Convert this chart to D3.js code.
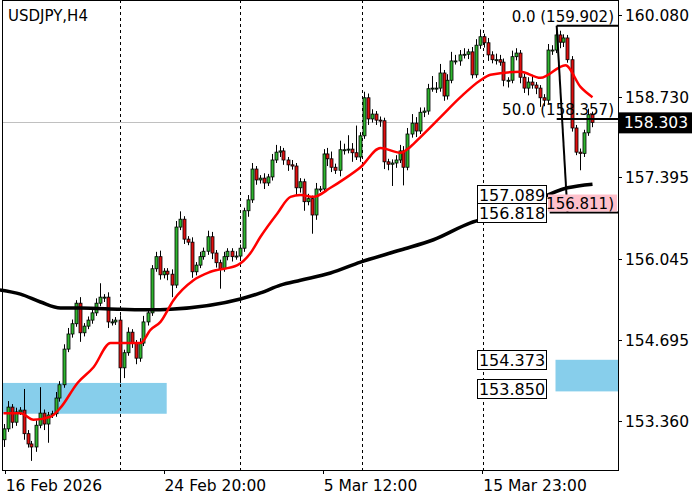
<!DOCTYPE html>
<html><head><meta charset="utf-8">
<script src="https://cdn.jsdelivr.net/npm/d3@7"></script>
<style>body{margin:0;background:#fff}svg{display:block}text{font-family:"DejaVu Sans",sans-serif}</style>
</head><body><svg id="c" width="700" height="500"></svg>
<script>
const symbol = "USDJPY,H4";
const firstOpen = 153.05;
const closes = [
153.23,153.59,153.34,153.51,153.54,153.15,152.98,152.93,153.29,153.49,
153.31,153.46,153.48,153.74,153.96,154.55,154.80,154.97,155.31,154.82,
154.93,155.03,155.15,155.31,155.41,155.41,155.00,155.00,155.03,154.24,
154.49,154.83,154.65,154.40,154.65,155.00,155.15,155.88,156.08,155.78,
155.84,155.79,155.61,156.57,156.70,156.37,156.32,155.83,155.94,156.08,
156.17,156.41,156.14,155.98,155.88,156.08,156.17,156.08,156.09,156.22,
156.84,157.02,157.53,157.35,157.38,157.30,157.40,157.68,157.81,157.83,
157.68,157.60,157.58,157.22,157.32,156.99,157.04,156.77,157.20,157.20,
157.78,157.70,157.56,157.51,157.85,157.85,157.86,157.80,157.73,158.08,
158.71,158.36,158.44,158.34,158.33,157.65,157.61,157.63,157.68,157.83,
157.56,158.11,158.29,158.16,158.47,158.49,158.86,158.87,158.87,159.12,
158.74,159.00,159.32,159.32,159.42,159.43,159.47,159.09,159.58,159.72,
159.62,159.42,159.34,159.34,159.30,159.00,159.00,159.39,159.45,159.05,
158.87,158.97,158.92,158.87,158.71,158.67,159.50,159.50,159.75,159.63,
159.70,159.34,158.21,157.81,157.79,158.13,158.43,158.303];
const wickUp = [
.08,.10,.05,.07,.05,.35,.06,.05,.08,.43,
.06,.05,.05,.10,.06,.08,.10,.07,.05,.10,
.05,.06,.05,.08,.23,.05,.08,.05,.05,.08,
.05,.08,.05,.05,.08,.10,.05,.06,.08,.10,
.05,.05,.08,.10,.13,.05,.05,.08,.05,.08,
.06,.10,.08,.05,.05,.08,.05,.05,.08,.06,
.05,.08,.10,.05,.05,.08,.05,.10,.12,.08,
.05,.05,.08,.05,.06,.05,.08,.05,.10,.05,
.08,.10,.12,.06,.15,.10,.23,.10,.45,.06,
.10,.07,.08,.05,.06,.05,.05,.06,.08,.10,
.08,.10,.15,.10,.08,.06,.08,.20,.10,.15,
.05,.10,.15,.10,.08,.10,.05,.08,.10,.12,
.05,.08,.06,.10,.08,.06,.05,.10,.08,.05,
.06,.08,.12,.05,.05,.06,.10,.08,.15,.07,
.06,.05,.06,.05,.06,.05,.10,.05];
const wickDn = [
.12,.05,.10,.06,.05,.10,.06,.23,.08,.05,
.10,.31,.05,.05,.06,.05,.05,.06,.05,.15,
.06,.05,.06,.05,.05,.08,.10,.06,.05,.25,
.17,.05,.08,.10,.06,.05,.06,.05,.05,.08,
.06,.10,.20,.05,.05,.08,.05,.10,.06,.05,
.05,.06,.10,.08,.33,.05,.06,.08,.05,.06,
.06,.10,.05,.08,.06,.10,.05,.06,.05,.08,
.08,.10,.06,.12,.08,.15,.06,.31,.08,.05,
.06,.12,.08,.06,.10,.08,.06,.15,.05,.08,
.05,.10,.06,.08,.10,.12,.10,.36,.08,.05,
.30,.05,.06,.10,.05,.08,.06,.05,.08,.06,
.08,.06,.05,.06,.08,.06,.08,.06,.05,.06,
.08,.10,.06,.08,.06,.10,.12,.05,.06,.10,
.08,.12,.06,.10,.15,.10,.06,.08,.05,.10,
.08,.05,.06,.05,.28,.06,.05,.08];
const maFast = [[0,153.49],[4.25,153.49],[7.5,153.38],[11.75,153.43],[14.25,153.58],[18.5,153.99],[22.5,154.25],[26.75,154.65],[29.25,154.65],[34.25,154.65],[36.75,154.87],[39.25,155.00],[42.5,155.36],[47.5,155.69],[51.75,155.83],[58.5,155.94],[61.75,156.14],[64.25,156.41],[68.5,156.80],[71.75,157.07],[74.25,157.10],[77.5,157.07],[81.75,157.22],[85.5,157.38],[89.25,157.56],[94.25,157.88],[99.25,157.80],[101.75,157.90],[104.25,158.06],[109.25,158.39],[114.25,158.72],[119.25,159.00],[121.75,159.09],[129.25,159.14],[134.25,159.04],[140.5,159.25],[144.25,158.89],[147.25,158.72]];
const maSlow = [[-0.9,155.53],[4.25,155.46],[9.25,155.33],[14.25,155.23],[19.25,155.23],[29.25,155.21],[36.75,155.20],[41.75,155.21],[59.25,155.38],[64.25,155.48],[69.25,155.61],[74.25,155.69],[81.75,155.81],[89.25,155.99],[99.25,156.19],[107.5,156.36],[116.75,156.64],[121.75,156.74],[129.25,156.90],[141,157.22],[147.25,157.28]];
const priceTicks = [160.080,158.730,157.395,156.045,154.695,153.360];
const timeLabels = [[0.3,"16 Feb 2026"],[40,"24 Feb 20:00"],[79.8,"5 Mar 12:00"],[119.7,"15 Mar 23:00"]];
const dividers = [29.2,59.2,89.7,119.9];
const fib = {hi:159.902, lo:156.811, mid:158.357, i0:138.3, i1:141};
const zoneLeft = [-0.3, 40.8, 153.99, 153.48];
const zoneRight = [138, 154, 154.373, 153.850];
const lastPrice = 158.303;
const boxA = [157.089,156.818];

const svg = d3.select("#c");
const L=2,R=618,T=0,B=470;
const x = d3.scaleLinear().domain([0,147]).range([3.5,591.5]);
const y = d3.scaleLinear().domain([153.360,160.080]).range([421,15]);

[zoneLeft,zoneRight].forEach(z=>{
  const x0=Math.max(L,x(z[0])), x1=Math.min(R,x(z[1]));
  svg.append("rect").attr("x",x0).attr("y",y(z[2])).attr("width",x1-x0).attr("height",y(z[3])-y(z[2])).attr("fill","#87ceeb");
});
dividers.forEach(d=>svg.append("line").attr("x1",Math.round(x(d))+.5).attr("x2",Math.round(x(d))+.5).attr("y1",T).attr("y2",B).attr("stroke","#000").attr("stroke-dasharray","3,3"));
svg.append("line").attr("x1",L).attr("x2",R).attr("y1",Math.round(y(lastPrice))+.5).attr("y2",Math.round(y(lastPrice))+.5).attr("stroke","#c0c0c0");

const bars = closes.map((c,i)=>{const o=i?closes[i-1]:firstOpen;return {i,o,c,h:Math.max(o,c)+wickUp[i],l:Math.min(o,c)-wickDn[i]};});
const g=svg.append("g");
bars.forEach(b=>{
  const cx=Math.round(x(b.i))+.5;
  g.append("line").attr("x1",cx).attr("x2",cx).attr("y1",y(b.h)).attr("y2",y(b.l)).attr("stroke","#000");
  const top=y(Math.max(b.o,b.c)), bot=y(Math.min(b.o,b.c));
  g.append("rect").attr("x",cx-1.5).attr("y",top).attr("width",3).attr("height",Math.max(1,bot-top))
   .attr("fill",b.c>=b.o?"#2fb52f":"#e01010").attr("stroke","#000").attr("stroke-width",0.8);
});
const ln=d3.line().x(d=>x(d[0])).y(d=>y(d[1])).curve(d3.curveMonotoneX);
svg.append("path").attr("d",ln(maSlow)).attr("fill","none").attr("stroke","#000").attr("stroke-width",3.5);
svg.append("path").attr("d",ln(maFast)).attr("fill","none").attr("stroke","#ff0000").attr("stroke-width",2.5);

const fx0=x(fib.i0);
svg.append("line").attr("x1",fx0).attr("y1",y(fib.hi)).attr("x2",x(fib.i1)).attr("y2",y(fib.lo)).attr("stroke","#000").attr("stroke-width",2);
[[fib.hi,fx0],[fib.mid,fx0],[fib.lo,x(fib.i0)-7]].forEach(f=>{
  svg.append("line").attr("x1",f[1]).attr("x2",R).attr("y1",y(f[0])).attr("y2",y(f[0])).attr("stroke","#000").attr("stroke-width",2);
});
svg.append("rect").attr("x",548).attr("y",y(fib.lo)-18).attr("width",69).attr("height",17).attr("fill","#ffc0cb");
[[fib.hi,"0.0 ("+fib.hi.toFixed(3)+")"],[fib.mid,"50.0 ("+fib.mid.toFixed(3)+")"],[fib.lo,"100.0 ("+fib.lo.toFixed(3)+")"]].forEach(f=>{
  svg.append("text").attr("x",614).attr("y",y(f[0])-4).attr("text-anchor","end").attr("font-size",15).attr("fill","#000").text(f[1]);
});
function vbox(v,yy){
  svg.append("rect").attr("x",477.5).attr("y",yy).attr("width",69).attr("height",19).attr("fill","#fff").attr("stroke","#000");
  svg.append("text").attr("x",512).attr("y",yy+15.5).attr("text-anchor","middle").attr("font-size",16).text(v.toFixed(3));
}
vbox(boxA[0],185.5); vbox(boxA[1],203.5);
vbox(zoneRight[2],350.5); vbox(zoneRight[3],379.5);

svg.append("rect").attr("x",L+.5).attr("y",T+.5).attr("width",R-L).attr("height",B-T).attr("fill","none").attr("stroke","#000");
priceTicks.forEach(p=>{
  svg.append("line").attr("x1",R).attr("x2",R+4).attr("y1",Math.round(y(p))+.5).attr("y2",Math.round(y(p))+.5).attr("stroke","#000");
  svg.append("text").attr("x",625).attr("y",y(p)+6).attr("font-size",15.5).text(p.toFixed(3));
});
svg.append("rect").attr("x",619).attr("y",y(lastPrice)-10).attr("width",73).attr("height",21).attr("fill","#000");
svg.append("text").attr("x",624).attr("y",y(lastPrice)+6).attr("font-size",15.5).attr("fill","#fff").text(lastPrice.toFixed(3));
timeLabels.forEach(t=>{
  const xx=x(t[0]);
  svg.append("line").attr("x1",Math.round(xx)+.5).attr("x2",Math.round(xx)+.5).attr("y1",B).attr("y2",B+4).attr("stroke","#000");
  svg.append("text").attr("x",xx+1).attr("y",491).attr("font-size",15.5).text(t[1]);
});
svg.append("text").attr("x",8).attr("y",21).attr("font-size",15).text(symbol);
</script></body></html>
